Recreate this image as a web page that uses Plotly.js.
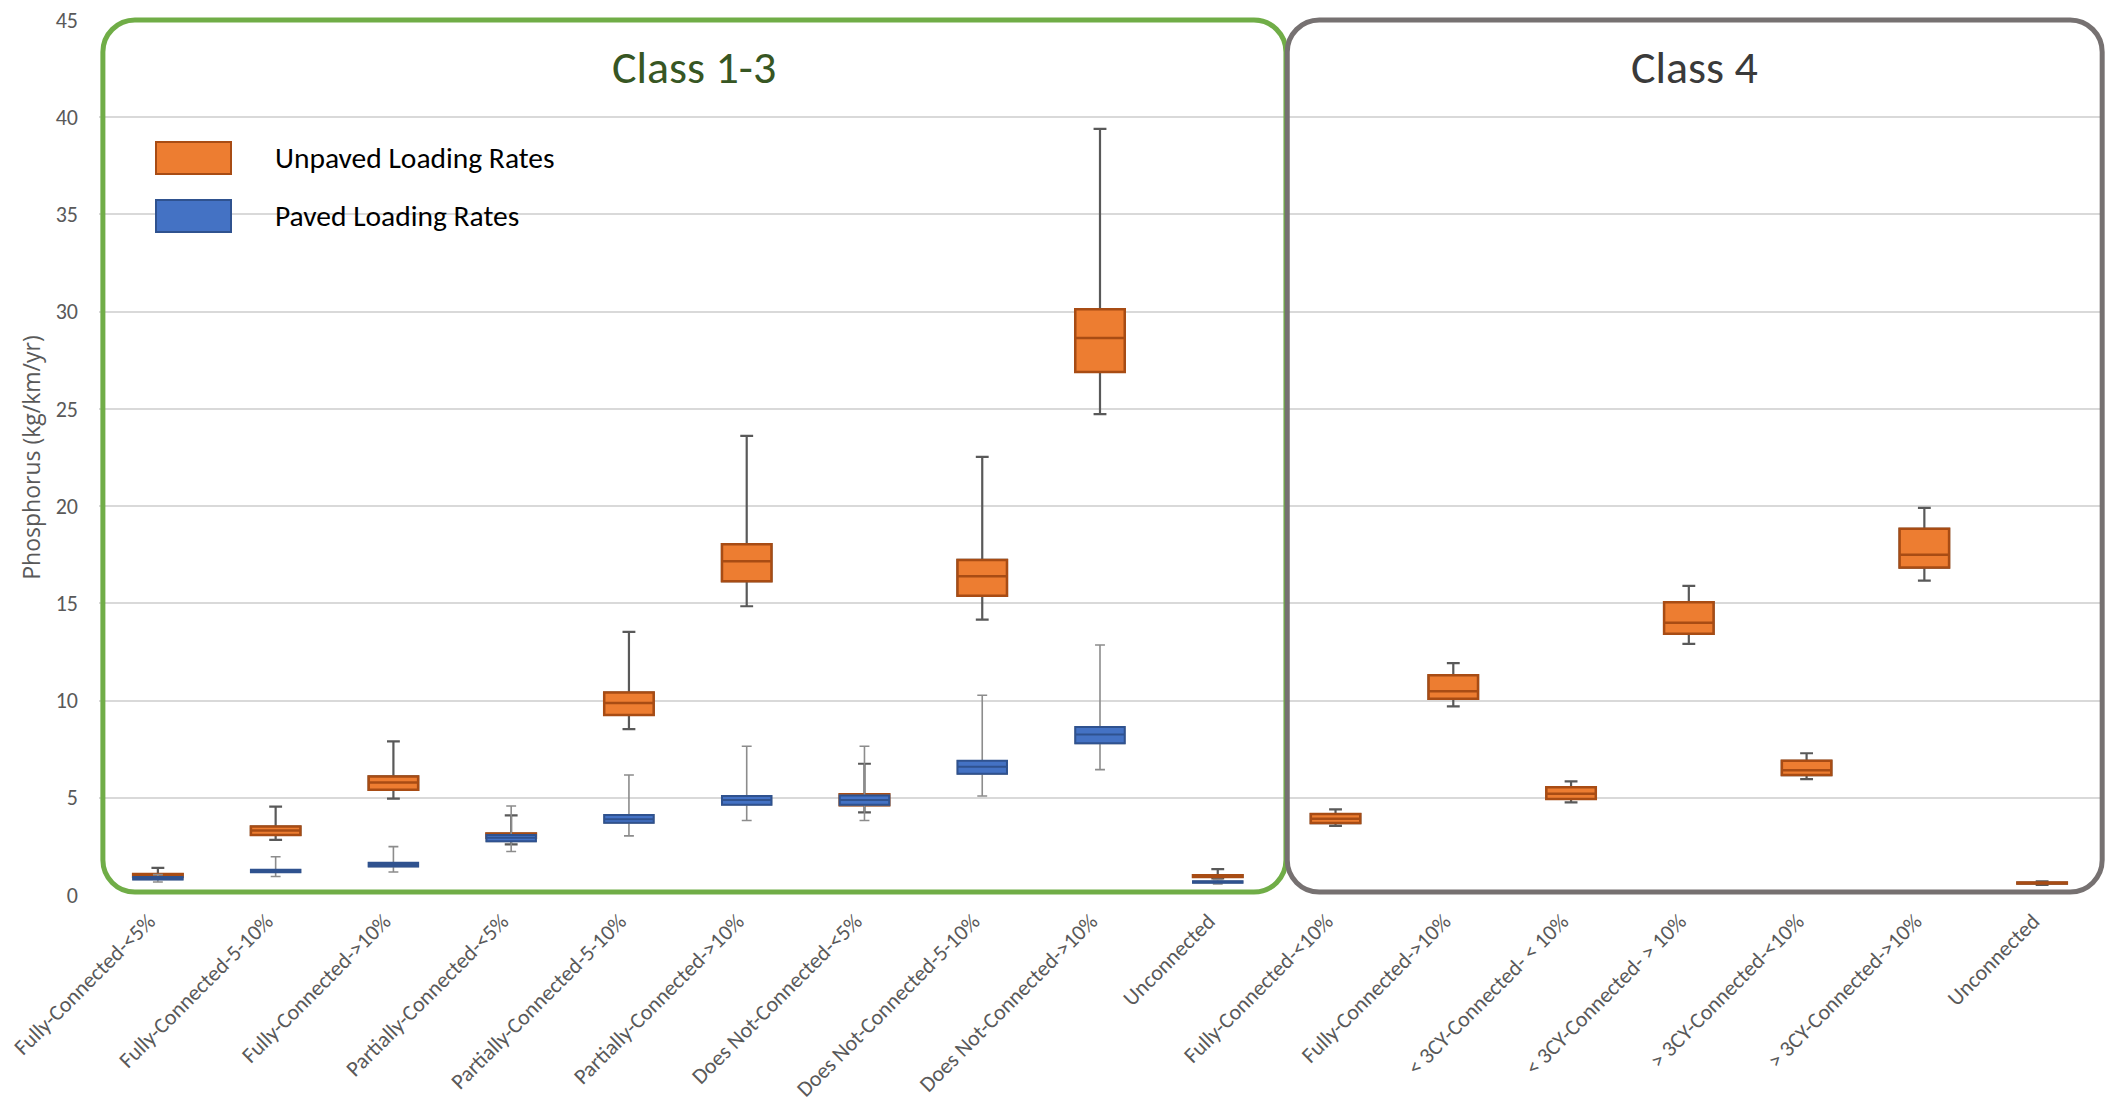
<!DOCTYPE html>
<html>
<head>
<meta charset="utf-8">
<script src="https://cdn.plot.ly/plotly-3.0.1.min.js"></script>
<style>
html,body{margin:0;padding:0;background:#ffffff;}
#chart{width:2107px;height:1119px;}
</style>
</head>
<body>
<div id="chart"></div>
<script>
// ---------------- DATA ----------------
const categories = [
  "Fully-Connected-<5%", "Fully-Connected-5-10%", "Fully-Connected->10%",
  "Partially-Connected-<5%", "Partially-Connected-5-10%", "Partially-Connected->10%",
  "Does Not-Connected-<5%", "Does Not-Connected-5-10%", "Does Not-Connected->10%",
  "Unconnected",
  "Fully-Connected-<10%", "Fully-Connected->10%",
  "< 3CY-Connected- < 10%", "< 3CY-Connected- > 10%",
  "> 3CY-Connected-<10%", "> 3CY-Connected->10%",
  "Unconnected"
];

// Unpaved loading rates (all 17 categories)
const unpavedMin    = [0.88, 2.84, 4.96, 2.60, 8.53, 14.85, 4.25, 14.16, 24.73, 0.85, 3.55, 9.70, 4.76, 12.92, 5.96, 16.17, 0.52];
const unpavedQ1     = [0.93, 3.09, 5.41, 2.95, 9.26, 16.14, 4.62, 15.39, 26.90, 0.93, 3.70, 10.09, 4.94, 13.43, 6.17, 16.84, 0.59];
const unpavedMedian = [1.00, 3.32, 5.78, 3.05, 9.88, 17.17, 4.90, 16.39, 28.64, 0.97, 3.92, 10.48, 5.21, 14.00, 6.42, 17.50, 0.61];
const unpavedQ3     = [1.08, 3.52, 6.10, 3.16, 10.41, 18.04, 5.18, 17.23, 30.12, 1.02, 4.16, 11.30, 5.54, 15.06, 6.90, 18.83, 0.64];
const unpavedMax    = [1.39, 4.54, 7.90, 4.10, 13.53, 23.61, 6.75, 22.53, 39.40, 1.33, 4.40, 11.93, 5.84, 15.90, 7.29, 19.91, 0.70];

// Paved loading rates (Class 1-3 categories only)
const pavedMin    = [0.67, 0.95, 1.18, 2.24, 3.04, 3.83, 3.83, 5.09, 6.45, 0.57];
const pavedQ1     = [0.80, 1.17, 1.47, 2.76, 3.71, 4.64, 4.64, 6.23, 7.80, 0.63];
const pavedMedian = [0.86, 1.23, 1.57, 2.95, 3.90, 4.88, 4.88, 6.60, 8.25, 0.67];
const pavedQ3     = [0.92, 1.30, 1.66, 3.09, 4.12, 5.09, 5.12, 6.90, 8.64, 0.71];
const pavedMax    = [1.05, 1.97, 2.49, 4.58, 6.17, 7.65, 7.65, 10.27, 12.86, 0.80];

const yTicks = [0, 5, 10, 15, 20, 25, 30, 35, 40, 45];
const panelTitles = ["Class 1-3", "Class 4"];
const legendLabels = ["Unpaved Loading Rates", "Paved Loading Rates"];
const yAxisTitle = "Phosphorus (kg/km/yr)";

// ---------------- STYLE / LAYOUT ----------------
const W = 2107, H = 1119;
const M = {l: 99, r: 6, t: 20, b: 224, pad: 0};
const PW = W - M.l - M.r, PH = H - M.t - M.b;
const Y_MAX = 45;
const X_RANGE = [-0.5, categories.length - 0.5];

const ORANGE = '#ED7D31', ORANGE_EDGE = '#A84C14';
const BLUE = '#4472C4', BLUE_EDGE = '#2F528F';
const WHISK_DARK = '#595959', WHISK_LIGHT = '#8C8C8C';
const GREEN = '#70AD47', GRAY_FRAME = '#767171';
const FONT = 'Carlito, Lato, "Liberation Sans", sans-serif';

const xs = categories.map((c, i) => i);
const pavedX = xs.slice(0, pavedMin.length);

const catToPaper = c => (c - X_RANGE[0]) / (X_RANGE[1] - X_RANGE[0]);
const valToPaper = v => v / Y_MAX;
const pxToPaperX = px => (px - M.l) / PW;
const pxToPaperY = py => (H - M.b - py) / PH;

function boxPair(x, mn, q1, md, q3, mx, fill, edge, edgeW, whiskColor, whiskW, capW) {
  const common = {type: 'box', orientation: 'v', x: x, q1: q1, median: md, q3: q3,
    width: 0.42, boxpoints: false, hoverinfo: 'skip', showlegend: false};
  return [
    Object.assign({}, common, {lowerfence: mn, upperfence: mx, whiskerwidth: capW,
      fillcolor: 'rgba(0,0,0,0)', line: {color: whiskColor, width: whiskW}}),
    Object.assign({}, common, {lowerfence: q1, upperfence: q3, whiskerwidth: 0,
      fillcolor: fill, line: {color: edge, width: edgeW}})
  ];
}

const traces = [].concat(
  boxPair(xs, unpavedMin, unpavedQ1, unpavedMedian, unpavedQ3, unpavedMax,
          ORANGE, ORANGE_EDGE, 2.5, WHISK_DARK, 2.2, 0.26),
  boxPair(pavedX, pavedMin, pavedQ1, pavedMedian, pavedQ3, pavedMax,
          BLUE, BLUE_EDGE, 2, WHISK_LIGHT, 1.6, 0.2)
);

function roundedRect(x0, x1, y0, y1, rpx) {
  const rx = rpx / PW, ry = rpx / PH, k = 0.5523;
  const f = (a, b) => a.toFixed(5) + ',' + b.toFixed(5);
  return 'M' + f(x0 + rx, y1) +
    ' L' + f(x1 - rx, y1) +
    ' C' + f(x1 - rx + k * rx, y1) + ' ' + f(x1, y1 - ry + k * ry) + ' ' + f(x1, y1 - ry) +
    ' L' + f(x1, y0 + ry) +
    ' C' + f(x1, y0 + ry - k * ry) + ' ' + f(x1 - rx + k * rx, y0) + ' ' + f(x1 - rx, y0) +
    ' L' + f(x0 + rx, y0) +
    ' C' + f(x0 + rx - k * rx, y0) + ' ' + f(x0, y0 + ry - k * ry) + ' ' + f(x0, y0 + ry) +
    ' L' + f(x0, y1 - ry) +
    ' C' + f(x0, y1 - ry + k * ry) + ' ' + f(x0 + rx - k * rx, y1) + ' ' + f(x0 + rx, y1) + ' Z';
}

const panels = [
  {x0: -0.467, x1: 9.579, color: GREEN, title: panelTitles[0], titleColor: '#375623'},
  {x0: 9.590, x1: 16.51, color: GRAY_FRAME, title: panelTitles[1], titleColor: '#3A3A3A'}
];

const shapes = [];
const annotations = [];
panels.forEach(p => {
  const x0 = catToPaper(p.x0), x1 = catToPaper(p.x1);
  shapes.push({type: 'path', xref: 'paper', yref: 'paper',
    path: roundedRect(x0, x1, valToPaper(0.15), valToPaper(45), 32),
    line: {color: p.color, width: 5}, fillcolor: 'rgba(0,0,0,0)', layer: 'above'});
  annotations.push({xref: 'paper', yref: 'paper', x: (x0 + x1) / 2, y: pxToPaperY(67),
    xanchor: 'center', yanchor: 'middle', showarrow: false, text: p.title,
    font: {family: FONT, size: 46, color: p.titleColor}});
});

const legendItems = [
  {label: legendLabels[0], fill: ORANGE, edge: ORANGE_EDGE, cy: 158},
  {label: legendLabels[1], fill: BLUE, edge: BLUE_EDGE, cy: 216}
];
legendItems.forEach(it => {
  shapes.push({type: 'rect', xref: 'paper', yref: 'paper',
    x0: pxToPaperX(156), x1: pxToPaperX(231), y0: pxToPaperY(it.cy + 16), y1: pxToPaperY(it.cy - 16),
    fillcolor: it.fill, line: {color: it.edge, width: 2}});
  annotations.push({xref: 'paper', yref: 'paper', x: pxToPaperX(273), y: pxToPaperY(it.cy),
    xanchor: 'left', yanchor: 'middle', showarrow: false, text: it.label,
    font: {family: FONT, size: 29.5, color: '#000000'}});
});

const layout = {
  width: W, height: H, margin: M,
  paper_bgcolor: '#ffffff', plot_bgcolor: '#ffffff',
  showlegend: false, boxmode: 'overlay',
  xaxis: {
    range: X_RANGE, tickmode: 'array', tickvals: xs, ticktext: categories,
    tickangle: -45, showgrid: false, zeroline: false, showline: false, ticks: '',
    ticklabelstandoff: 8, ticklabelshift: -9, ticklabeloverflow: 'allow',
    tickfont: {family: FONT, size: 22, color: '#595959'}, fixedrange: true
  },
  yaxis: {
    range: [0, Y_MAX], tickmode: 'array', tickvals: yTicks,
    showgrid: true, gridcolor: '#D9D9D9', gridwidth: 2,
    zeroline: false, showline: false, ticks: '', ticklabelstandoff: 20,
    tickfont: {family: FONT, size: 22, color: '#595959'},
    title: {text: yAxisTitle, standoff: 8,
      font: {family: '"Open Sans", sans-serif', size: 23, color: '#595959'}},
    fixedrange: true
  },
  shapes: shapes,
  annotations: annotations
};

Plotly.newPlot('chart', traces, layout, {staticPlot: true, displayModeBar: false});
</script>
</body>
</html>
